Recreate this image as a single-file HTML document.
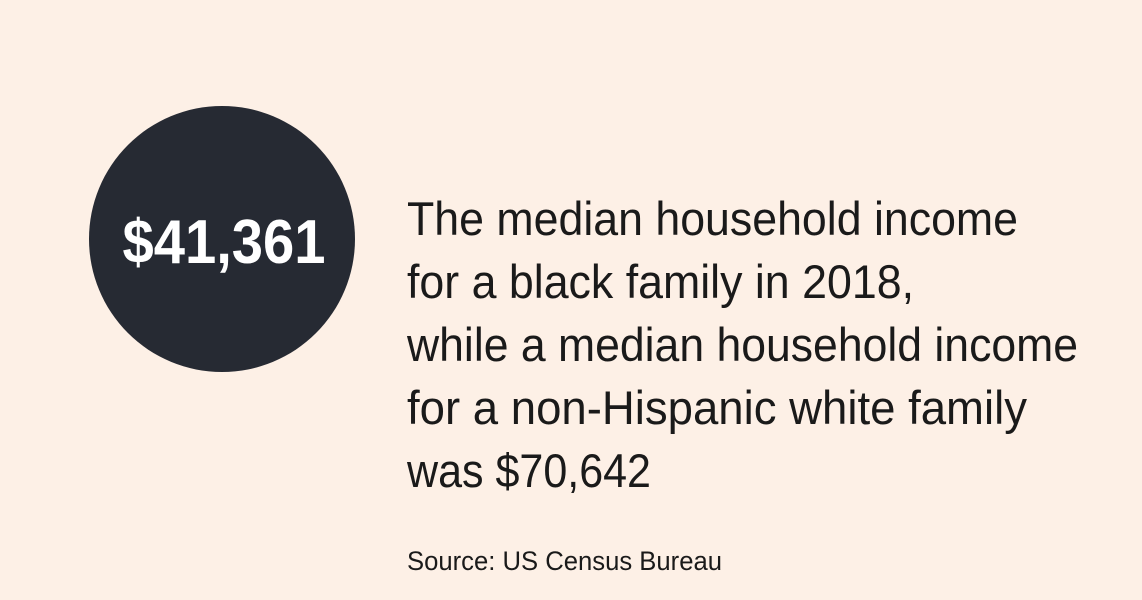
<!DOCTYPE html>
<html><head><meta charset="utf-8"><style>
html,body{margin:0;padding:0;background:#fdf0e6;}
svg{display:block;}
</style></head><body>
<svg width="1142" height="600" viewBox="0 0 1142 600" font-family="'Liberation Sans', sans-serif">
<rect x="0" y="0" width="1142" height="600" fill="#fdf0e6"/>
<circle cx="222" cy="239" r="133" fill="#262a33"/>
<text x="224" y="263" fill="#ffffff" font-size="62" font-weight="bold" text-anchor="middle" textLength="203" lengthAdjust="spacingAndGlyphs">$41,361</text>
<g fill="#1a1a1a" font-size="47">
<text x="407" y="235" textLength="611" lengthAdjust="spacingAndGlyphs">The median household income</text>
<text x="407" y="298" textLength="507" lengthAdjust="spacingAndGlyphs">for a black family in 2018,</text>
<text x="407" y="361" textLength="671" lengthAdjust="spacingAndGlyphs">while a median household income</text>
<text x="407" y="424" textLength="620" lengthAdjust="spacingAndGlyphs">for a non-Hispanic white family</text>
<text x="407" y="487" textLength="244" lengthAdjust="spacingAndGlyphs">was $70,642</text>
</g>
<text x="407" y="570" fill="#1a1a1a" font-size="27" textLength="315" lengthAdjust="spacingAndGlyphs">Source: US Census Bureau</text>
</svg>
</body></html>
